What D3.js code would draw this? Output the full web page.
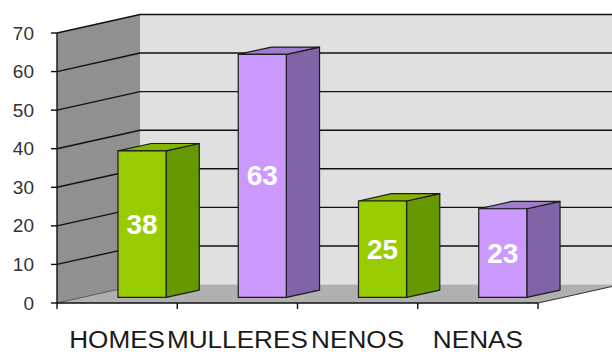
<!DOCTYPE html>
<html>
<head>
<meta charset="utf-8">
<script src="https://cdn.jsdelivr.net/npm/d3@7"></script>
<style>
  html, body { margin: 0; padding: 0; background: #fff; }
  svg { display: block; }
</style>
</head>
<body>
<svg id="chart" width="612" height="352"></svg>
<script>
// Chart data
const categories = ["HOMES", "MULLERES", "NENOS", "NENAS"];
const values = [38, 63, 25, 23];
const yTicks = [0, 10, 20, 30, 40, 50, 60, 70];

// Colour sets per category: front, side, top
const palette = [
  { front: "#99cc00", side: "#669900", top: "#84b400" },
  { front: "#cc99ff", side: "#8064a8", top: "#a07ccc" },
  { front: "#99cc00", side: "#669900", top: "#84b400" },
  { front: "#cc99ff", side: "#8064a8", top: "#a07ccc" }
];

const svg = d3.select("#chart");

// Front plane geometry and depth offset of the 3D box
const x = d3.scaleBand().domain(categories).range([57, 538]).paddingInner(0).paddingOuter(0);
const y = d3.scaleLinear().domain([0, 70]).range([303, 33]);
const depth = { dx: 83, dy: -18.5 };

// Project a point (px on front plane, value, depth 0..1)
function proj(px, v, z) {
  return [px + z * depth.dx, y(v) + z * depth.dy];
}
function P(px, v, z) {
  const p = proj(px, v, z);
  return p[0] + "," + p[1];
}
function poly(pts) { return pts.join(" "); }

const x0 = x.range()[0], x1 = x.range()[1];
const vMax = y.domain()[1];
const font = "Arial, 'Liberation Sans', sans-serif";

// Back wall
svg.append("polygon")
  .attr("points", poly([P(x0, 0, 1), P(x0, vMax, 1), P(x1 + 120, vMax, 1), P(x1 + 120, 0, 1)]))
  .attr("fill", "#e0e0e0");

// Left side wall
svg.append("polygon")
  .attr("points", poly([P(x0, 0, 0), P(x0, vMax, 0), P(x0, vMax, 1), P(x0, 0, 1)]))
  .attr("fill", "#909090");

// Floor
svg.append("polygon")
  .attr("points", poly([P(x0, 0, 0), P(x0, 0, 1), P(x1, 0, 1), P(x1, 0, 0)]))
  .attr("fill", "#b0b0b0");

// Gridlines: diagonal on side wall, horizontal across back wall
const grid = svg.append("g").attr("fill", "none").attr("stroke", "#111").attr("stroke-width", 1.4);
yTicks.filter(t => t > 0).forEach(t => {
  const a = proj(x0, t, 0), b = proj(x0, t, 1);
  grid.append("path").attr("d", `M${a[0]},${a[1]}L${b[0]},${b[1]}L${x1 + 120},${b[1]}`);
});
// Floor edges
{
  const a = proj(x0, 0, 0), b = proj(x0, 0, 1);
  grid.append("path").attr("d", `M${a[0]},${a[1]}L${b[0]},${b[1]}`).attr("stroke", "#555").attr("stroke-width", 1);
  const c = proj(x1, 0, 0), d = proj(x1, 0, 1);
  grid.append("path").attr("d", `M${c[0]},${c[1]}L${d[0]},${d[1]}`).attr("stroke", "#333").attr("stroke-width", 1.2);
}

// Bars as 3D boxes
const zFront = 0.3, zBack = 0.7;
const barW = x.bandwidth() * 0.4;
const bars = svg.append("g").attr("stroke", "#1c1c1c").attr("stroke-width", 1.2).attr("stroke-linejoin", "round");
categories.forEach((c, i) => {
  const v = values[i];
  const l = x(c) + x.bandwidth() * 0.3, r = l + barW;
  const col = palette[i];
  const g = bars.append("g");
  // side face
  g.append("polygon")
    .attr("points", poly([P(r, 0, zFront), P(r, v, zFront), P(r, v, zBack), P(r, 0, zBack)]))
    .attr("fill", col.side);
  // top face
  g.append("polygon")
    .attr("points", poly([P(l, v, zFront), P(l, v, zBack), P(r, v, zBack), P(r, v, zFront)]))
    .attr("fill", col.top);
  // front face
  g.append("polygon")
    .attr("points", poly([P(l, 0, zFront), P(l, v, zFront), P(r, v, zFront), P(r, 0, zFront)]))
    .attr("fill", col.front);
  // value label
  const mid = proj((l + r) / 2, v / 2, zFront);
  svg.append("text")
    .attr("x", mid[0]).attr("y", mid[1])
    .attr("text-anchor", "middle").attr("dominant-baseline", "central")
    .attr("font-family", font)
    .attr("font-weight", "bold").attr("font-size", 28)
    .attr("fill", "#ffffff")
    .text(v);
});

// Front axes
const axes = svg.append("g").attr("stroke", "#111").attr("stroke-width", 1.4).attr("fill", "none");
axes.append("path").attr("d", `M${x0},${y(vMax)}L${x0},${y(0)}L${x1},${y(0)}`);

// Y axis ticks and labels
yTicks.forEach(t => {
  axes.append("path").attr("d", `M${x0 - 6},${y(t)}L${x0},${y(t)}`);
  svg.append("text")
    .attr("x", 34).attr("y", y(t))
    .attr("text-anchor", "end").attr("dominant-baseline", "central")
    .attr("font-family", font)
    .attr("font-size", 19).attr("fill", "#333")
    .text(t);
});

// Category boundary ticks
const bounds = categories.map(c => x(c)).concat([x1]);
bounds.forEach(bx => {
  axes.append("path").attr("d", `M${bx},${y(0)}L${bx},${y(0) + 6}`);
});

// Category labels, slightly widened
categories.forEach(c => {
  const cx = x(c) + x.bandwidth() / 2;
  svg.append("text")
    .attr("transform", `translate(${cx},348) scale(1.09,1)`)
    .attr("text-anchor", "middle")
    .attr("font-family", font)
    .attr("font-size", 24).attr("fill", "#1a1a1a")
    .text(c);
});
</script>
</body>
</html>
